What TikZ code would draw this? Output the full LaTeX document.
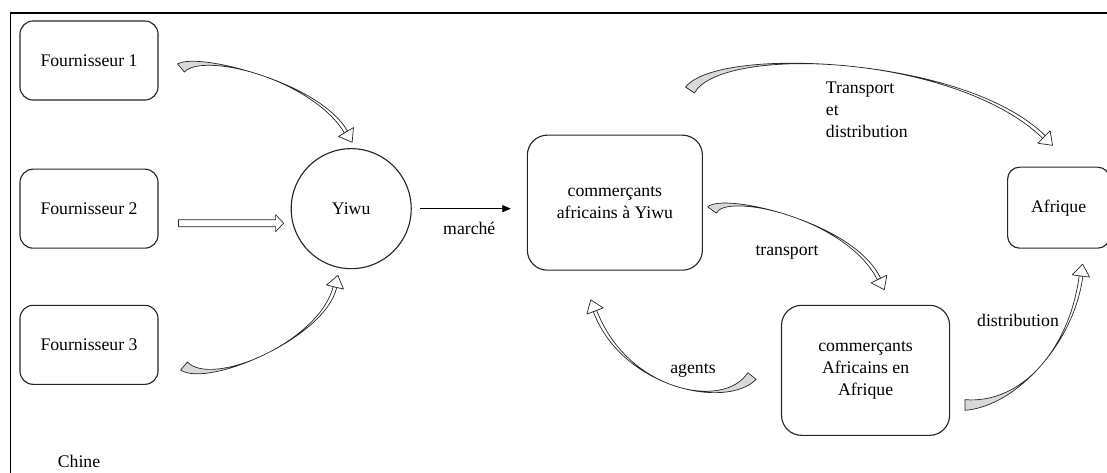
\documentclass[tikz,border=0pt]{standalone}
\usepackage{fontspec}
\setmainfont{Liberation Serif}
\usetikzlibrary{arrows.meta,positioning,calc}

% curved ribbon arrow: tail, control 1, control 2, head base
\newcommand\swoosh[4]{%
  \coordinate (q0) at ($(#1)!.5!(#2)$);
  \coordinate (q1) at ($(#2)!.5!(#3)$);
  \coordinate (q2) at ($(#3)!.5!(#4)$);
  \coordinate (r0) at ($(q0)!.5!(q1)$);
  \coordinate (r1) at ($(q1)!.5!(q2)$);
  \coordinate (mid) at ($(r0)!.5!(r1)$);
  \filldraw[tail] ($(#1)!3.8pt!90:(q0)$) .. controls ($(q0)!2.2pt!-90:(#1)$) and (r0) .. (mid)
      .. controls (r0) and ($(q0)!2.2pt!90:(#1)$) .. ($(#1)!3.8pt!-90:(q0)$) -- cycle;
  \filldraw[shaft] (mid) .. controls (r1) and ($(q2)!1.3pt!90:(#4)$) .. ($(#4)!1.3pt!-90:(#3)$)
      -- ($(#4)!1.3pt!90:(#3)$) .. controls ($(q2)!1.3pt!-90:(#4)$) and (r1) .. (mid) -- cycle;
  \filldraw[shaft] ($(#4)!6.2pt!90:(#3)$) -- ($(#4)!-8.5pt!(#3)$) -- ($(#4)!6.2pt!-90:(#3)$) -- cycle;
}

\begin{document}
\begin{tikzpicture}[
    x=0.025cm, y=-0.025cm,
    font=\fontsize{12.6}{15.5}\selectfont,
    box/.style={rectangle, rounded corners=#1, draw=black!85, line width=0.8pt,
                align=center, inner sep=2pt},
    box/.default=0.33cm,
    hub/.style={circle, draw=black!85, line width=0.8pt, minimum size=3cm},
    tail/.style={draw=black!85, line width=0.5pt, fill=gray!30, line join=round},
    shaft/.style={draw=black!85, line width=0.5pt, fill=white, line join=round},
    arr/.style={-{Triangle[length=6pt, width=5pt]}, line width=0.5pt}
]
\useasboundingbox (0,0) rectangle (1107,473);
% frame
\draw[line width=0.9pt] (10.5,480) |- (1120,13);

% Chine
\node[box, minimum width=3.45cm, minimum height=1.975cm] (f1) at (89,60.5) {Fournisseur 1};
\node[box, minimum width=3.45cm, minimum height=1.975cm, below=1.7cm of f1] (f2) {Fournisseur 2};
\node[box, minimum width=3.45cm, minimum height=1.975cm, below=1.4cm of f2] (f3) {Fournisseur 3};
\node[hub, right=3.3cm of f2] (yiwu) {Yiwu};
\node[box=0.5cm, minimum width=4.375cm, minimum height=3.375cm, right=2.875cm of yiwu,
      yshift=0.15cm] (cy) {commerçants\\africains à Yiwu};

% Afrique
\node[box=0.3cm, minimum width=2.55cm, minimum height=2.025cm, right=7.6cm of cy,
      yshift=-0.125cm] (afr) {Afrique};
\node[box=0.5cm, minimum width=4.2cm, minimum height=3.25cm,
      below right=0.85cm and 1.95cm of cy] (ca) {commerçants\\Africains en\\Afrique};

% supply arrows
\coordinate (s1) at (181,68);
\coordinate (e1) at (346,132);
\swoosh{s1}{200,52}{315,80}{e1}
\coordinate (b2s) at ($(f2.east)+(20,14.5)$);
\coordinate (b2e) at ($(yiwu.west)+(-7,14.5)$);
\draw[shaft] ($(b2s)+(0,-3.5)$) -- ($(b2e)+(-8,-3.5)$) -- ($(b2e)+(-8,-8.5)$) -- (b2e)
    -- ($(b2e)+(-8,8.5)$) -- ($(b2e)+(-8,3.5)$) -- ($(b2s)+(0,3.5)$) -- cycle;
\coordinate (s3) at (184,366);
\coordinate (e3) at (335,287);
\swoosh{s3}{210,388}{322,340}{e3}

% market
\draw[arr, shorten <=0.2cm, shorten >=0.4cm] (yiwu.east) -- node[below=6pt] {marché} (yiwu.east -| cy.west);

% trade flows
\coordinate (s4) at (690,90);
\coordinate (e4) at (1044,137);
\swoosh{s4}{720,45}{960,55}{e4}
\coordinate (s5) at (712,210);
\coordinate (e5) at (879,279);
\swoosh{s5}{725,192}{850,220}{e5}
\coordinate (s6) at (752,376);
\coordinate (e6) at (595,311);
\swoosh{s6}{725,410}{625,390}{e6}
\coordinate (s7) at (965,405);
\coordinate (e7) at (1081,276);
\swoosh{s7}{1020,405}{1072,345}{e7}

% labels
\node[anchor=west, align=left] (td) at (821,110) {Transport\\et\\distribution};
\node (tr) at (787,252) {transport};
\node (ag) at (693,370) {agents};
\node (di) at (1018,320) {distribution};
\node (chine) at (79,461) {Chine};
\end{tikzpicture}
\end{document}
